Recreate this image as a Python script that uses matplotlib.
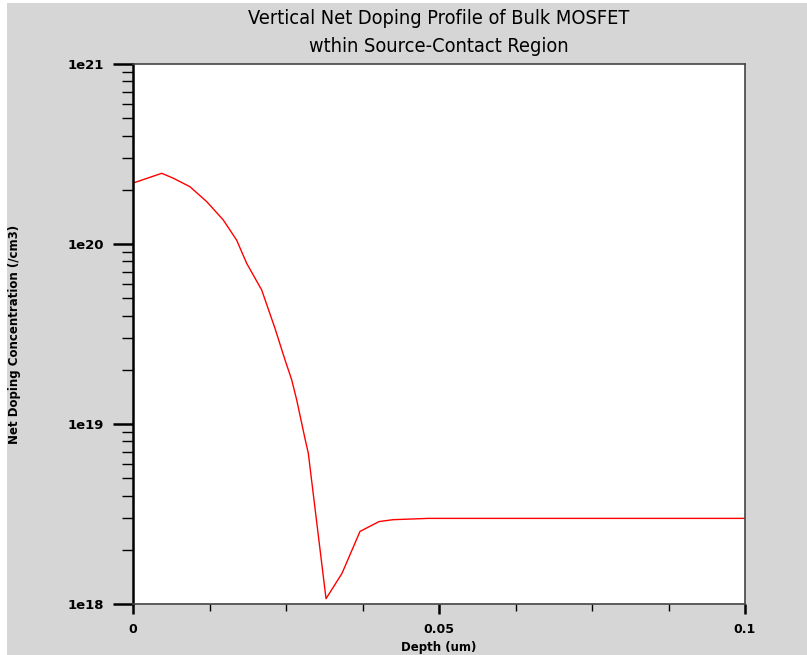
import matplotlib.pyplot as plt
from matplotlib.patches import Rectangle
from matplotlib.ticker import LogLocator, NullFormatter, FixedLocator

# Depth (um) and net doping (/cm3)
depth = [0.0, 0.00469, 0.00659, 0.00931, 0.01204, 0.01475, 0.01694, 0.01858,
         0.02103, 0.02320, 0.02484, 0.02593, 0.02675, 0.02810, 0.02864,
         0.03154, 0.03415, 0.03709, 0.04020, 0.04248, 0.04825, 0.1]
doping = [2.18e20, 2.47e20, 2.32e20, 2.08e20, 1.72e20, 1.36e20, 1.05e20, 7.8e19,
          5.55e19, 3.40e19, 2.27e19, 1.76e19, 1.36e19, 8.3e18, 6.9e18,
          1.07e18, 1.48e18, 2.53e18, 2.87e18, 2.94e18, 2.99e18, 2.99e18]

x_ticks = [0, 0.05, 0.1]
x_labels = ['0', '0.05', '0.1']
y_ticks = [1e18, 1e19, 1e20, 1e21]
y_labels = ['1e18', '1e19', '1e20', '1e21']

W, H = 807, 655
fig = plt.figure(figsize=(W / 100, H / 100), dpi=100, facecolor='white')
fig.patches.append(Rectangle((7 / W, 0), 1 - 7 / W, 1 - 3 / H, transform=fig.transFigure,
                             facecolor='#d6d6d6', edgecolor='none', zorder=-5))

ax = fig.add_axes([133 / W, (H - 604) / H, 612 / W, 540 / H])
ax.set_facecolor('white')
ax.plot(depth, doping, color='red', linewidth=1.0)

ax.set_yscale('log')
ax.set_xlim(0, 0.1)
ax.set_ylim(1e18, 1e21)

ax.set_xticks(x_ticks)
ax.set_xticklabels(x_labels)
ax.xaxis.set_minor_locator(FixedLocator([0.0125, 0.025, 0.0375, 0.0625, 0.075, 0.0875]))
ax.set_yticks(y_ticks)
ax.set_yticklabels(y_labels)
ax.yaxis.set_minor_locator(LogLocator(base=10, subs=range(2, 10)))
ax.yaxis.set_minor_formatter(NullFormatter())

for t in ax.get_yticklabels():
    t.set_fontproperties(dict(family='DejaVu Sans', weight='bold', size=9.5))
for t in ax.get_xticklabels():
    t.set_fontproperties(dict(family='DejaVu Sans', weight='bold', size=9))

ax.tick_params(axis='y', which='major', direction='out', length=14.5, width=1.8, pad=6.5)
ax.tick_params(axis='y', which='minor', direction='out', length=8, width=1.0)
ax.tick_params(axis='x', which='major', direction='out', length=7.5, width=1.8, pad=6)
ax.tick_params(axis='x', which='minor', direction='out', length=5, width=1.0)

for side in ['top', 'right']:
    ax.spines[side].set_color('#444444')
    ax.spines[side].set_linewidth(1.2)
ax.spines['left'].set_linewidth(1.8)
ax.spines['left'].set_color('black')
ax.spines['bottom'].set_linewidth(1.2)
ax.spines['bottom'].set_color('#444444')

ax.set_xlabel('Depth (um)', fontsize=8.5, fontweight='bold', family='DejaVu Sans')
ax.xaxis.set_label_coords(0.5, -0.069)
ax.set_ylabel('Net Doping Concentration (/cm3)', fontsize=8.5, fontweight='bold',
              family='DejaVu Sans')
ax.yaxis.set_label_coords(-0.183, 0.5)

fig.text(439 / W, 1 - 18 / H, 'Vertical Net Doping Profile of Bulk MOSFET',
         ha='center', va='center', fontsize=14.3, family='DejaVu Sans', stretch='condensed')
fig.text(439 / W, 1 - 47 / H, 'wthin Source-Contact Region',
         ha='center', va='center', fontsize=14.3, family='DejaVu Sans', stretch='condensed')

plt.savefig('out.png', dpi=100, facecolor=fig.get_facecolor())
